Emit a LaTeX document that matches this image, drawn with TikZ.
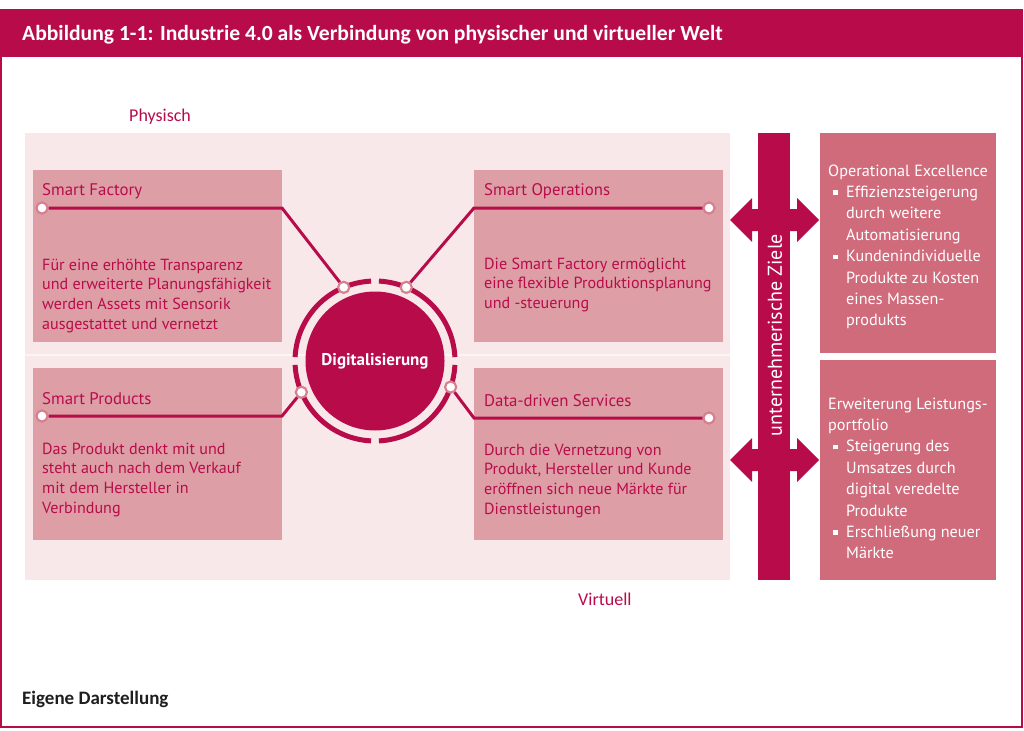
\documentclass[tikz,border=0pt]{standalone}
\usepackage{fontspec}
\setmainfont{PT Sans}
\newfontfamily\carl{Carlito}
\usetikzlibrary{calc}
\definecolor{crim}{RGB}{184,12,74}
\definecolor{boxpink}{RGB}{221,158,166}
\definecolor{bgpink}{RGB}{248,232,234}
\definecolor{rbox}{RGB}{208,107,124}
\definecolor{dotrim}{RGB}{214,128,143}
\definecolor{darktext}{RGB}{30,30,30}
\newcommand{\blt}{\hspace*{5pt}\rule[2.5pt]{4.5pt}{4.5pt}\hspace*{8.5pt}}
\newcommand{\ind}{\hspace*{18pt}}
\tikzset{
  lbox/.style={fill=boxpink, draw=none, anchor=north west, inner sep=0pt},
  rboxst/.style={fill=rbox, draw=none, anchor=north west, inner sep=0pt},
  btitle/.style={anchor=base west, inner sep=0pt, text=crim, font=\fontsize{16.8}{19.7}\selectfont},
  btext/.style={anchor=base west, inner sep=0pt, text=crim, align=left, font=\fontsize{16.1}{19.7}\selectfont},
  rtext/.style={anchor=base west, inner sep=0pt, text=white, align=left, font=\fontsize{16.2}{21.4}\selectfont},
  conn/.style={draw=crim, line width=3pt},
  enddot/.style={circle, fill=white, draw=dotrim, line width=2pt, minimum size=11pt, inner sep=0pt},
  ringseg/.style={draw=crim, line width=5pt},
  dblarrow/.style={fill=crim, draw=none},
}
\begin{document}
\begin{tikzpicture}[x=1pt,y=-1pt]
\useasboundingbox (0,0) rectangle (1024,730);
\fill[white] (0,0) rectangle (1024,730);
% frame and header
\draw[crim, line width=2pt] (1,10) rectangle (1022,727);
\fill[crim] (0,9) rectangle (1023,57);
\node[anchor=base west, inner sep=0pt, text=white, font=\carl\bfseries\fontsize{21.6}{24}\selectfont] (title) at (22,41) {Abbildung 1-1: Industrie 4.0 als Verbindung von physischer und virtueller Welt};
% labels
\node[anchor=base west, inner sep=0pt, text=crim, font=\carl\fontsize{18}{20}\selectfont] (phys) at (129,122) {Physisch};
\node[anchor=base west, inner sep=0pt, text=crim, font=\carl\fontsize{18}{20}\selectfont] (virt) at (578,605) {Virtuell};
\node[anchor=base west, inner sep=0pt, text=darktext, font=\carl\bfseries\fontsize{19}{21}\selectfont] (src) at (22,704) {Eigene Darstellung};
% background
\fill[bgpink] (25,133) rectangle (730,580);
\draw[white!55!bgpink, line width=1.5pt] (25,355) -- (730,355);
% boxes
\node[lbox, minimum width=249pt, minimum height=172pt] (sf) at (33,170) {};
\node[lbox, minimum width=249pt, minimum height=172pt] (so) at (474,170) {};
\node[lbox, minimum width=249pt, minimum height=172pt] (sp) at (33,368) {};
\node[lbox, minimum width=249pt, minimum height=172pt] (ds) at (474,368) {};
% box titles and texts (base = last line)
\node[btitle] (sft) at (42,195) {Smart Factory};
\node[btext] (sfx) at (42,329.1) {Für eine erhöhte Transparenz\\und erweiterte Planungsfähigkeit\\werden Assets mit Sensorik\\ausgestattet und vernetzt};
\node[btitle] (sot) at (484,195) {Smart Operations};
\node[btext] (sox) at (484,308.4) {Die Smart Factory ermöglicht\\eine flexible Produktionsplanung\\und -steuerung};
\node[btitle] (spt) at (42,404) {Smart Products};
\node[btext] (spx) at (42,513.1) {Das Produkt denkt mit und\\steht auch nach dem Verkauf\\mit dem Hersteller in\\Verbindung};
\node[btitle] (dst) at (484,406) {Data-driven Services};
\node[btext] (dsx) at (484,514.1) {Durch die Vernetzung von\\Produkt, Hersteller und Kunde\\eröffnen sich neue Märkte für\\Dienstleistungen};
% central circle
\node[circle, fill=crim, minimum size=139pt, inner sep=0pt, text=white, font=\bfseries\fontsize{17}{20}\selectfont] (dig) at (375,361) {Digitalisierung};
\foreach \a in {0,90,180,270}{
  \draw[ringseg] ([shift={(\a+2.8:80pt)}]dig.center) arc[start angle=\a+2.8, end angle=\a+87.2, radius=80pt];
}
% connector bends
\coordinate (sfb) at (282,208);
\coordinate (sob) at (474,208);
\coordinate (spb) at (282,416);
\coordinate (dsb) at (474,418);
% end dots
\node[enddot] (sfe) at (42,208) {};
\node[enddot] (soe) at (709,208) {};
\node[enddot] (spe) at (42,416) {};
\node[enddot] (dse) at (709,418) {};
\node[enddot] (r1) at ([shift={(113:80pt)}]dig.center) {};
\node[enddot] (r2) at ([shift={(67:80pt)}]dig.center) {};
\node[enddot] (r3) at ([shift={(203:80pt)}]dig.center) {};
\node[enddot] (r4) at ([shift={(-19:80pt)}]dig.center) {};
% connectors
\draw[conn] (sfe) -- (sfb) -- (r1);
\draw[conn] (r2) -- (sob) -- (soe);
\draw[conn] (spe) -- (spb) -- (r3);
\draw[conn] (r4) -- (dsb) -- (dse);
% redraw dots on top
\foreach \n in {sfe,soe,spe,dse,r1,r2,r3,r4}{
  \node[enddot] at (\n.center) {};
}
% vertical bar and arrows
\fill[crim] (758,133) rectangle (790,580);
\foreach \yy in {220,460}{
  \fill[dblarrow] (730,\yy) -- (752,\yy-22) -- (752,\yy-11) -- (797,\yy-11) -- (797,\yy-22) -- (819,\yy) -- (797,\yy+22) -- (797,\yy+11) -- (752,\yy+11) -- (752,\yy+22) -- cycle;
}
\node[rotate=90, text=white, inner sep=0pt, font=\fontsize{20}{22}\selectfont] (ziele) at (775,335) {unternehmerische Ziele};
% right boxes
\node[rboxst, minimum width=176pt, minimum height=220pt] (oe) at (820,133) {};
\node[rboxst, minimum width=176pt, minimum height=220pt] (el) at (820,360) {};
\node[rtext] (oex) at (828,325.8) {Operational Excellence\\\blt Effizienzsteigerung\\\ind durch weitere\\\ind Automatisierung\\\blt Kundenindividuelle\\\ind Produkte zu Kosten\\\ind eines Massen-\\\ind produkts};
\node[rtext] (elx) at (828,558.8) {Erweiterung Leistungs-\\portfolio\\\blt Steigerung des\\\ind Umsatzes durch\\\ind digital veredelte\\\ind Produkte\\\blt Erschließung neuer\\\ind Märkte};
\end{tikzpicture}
\end{document}
